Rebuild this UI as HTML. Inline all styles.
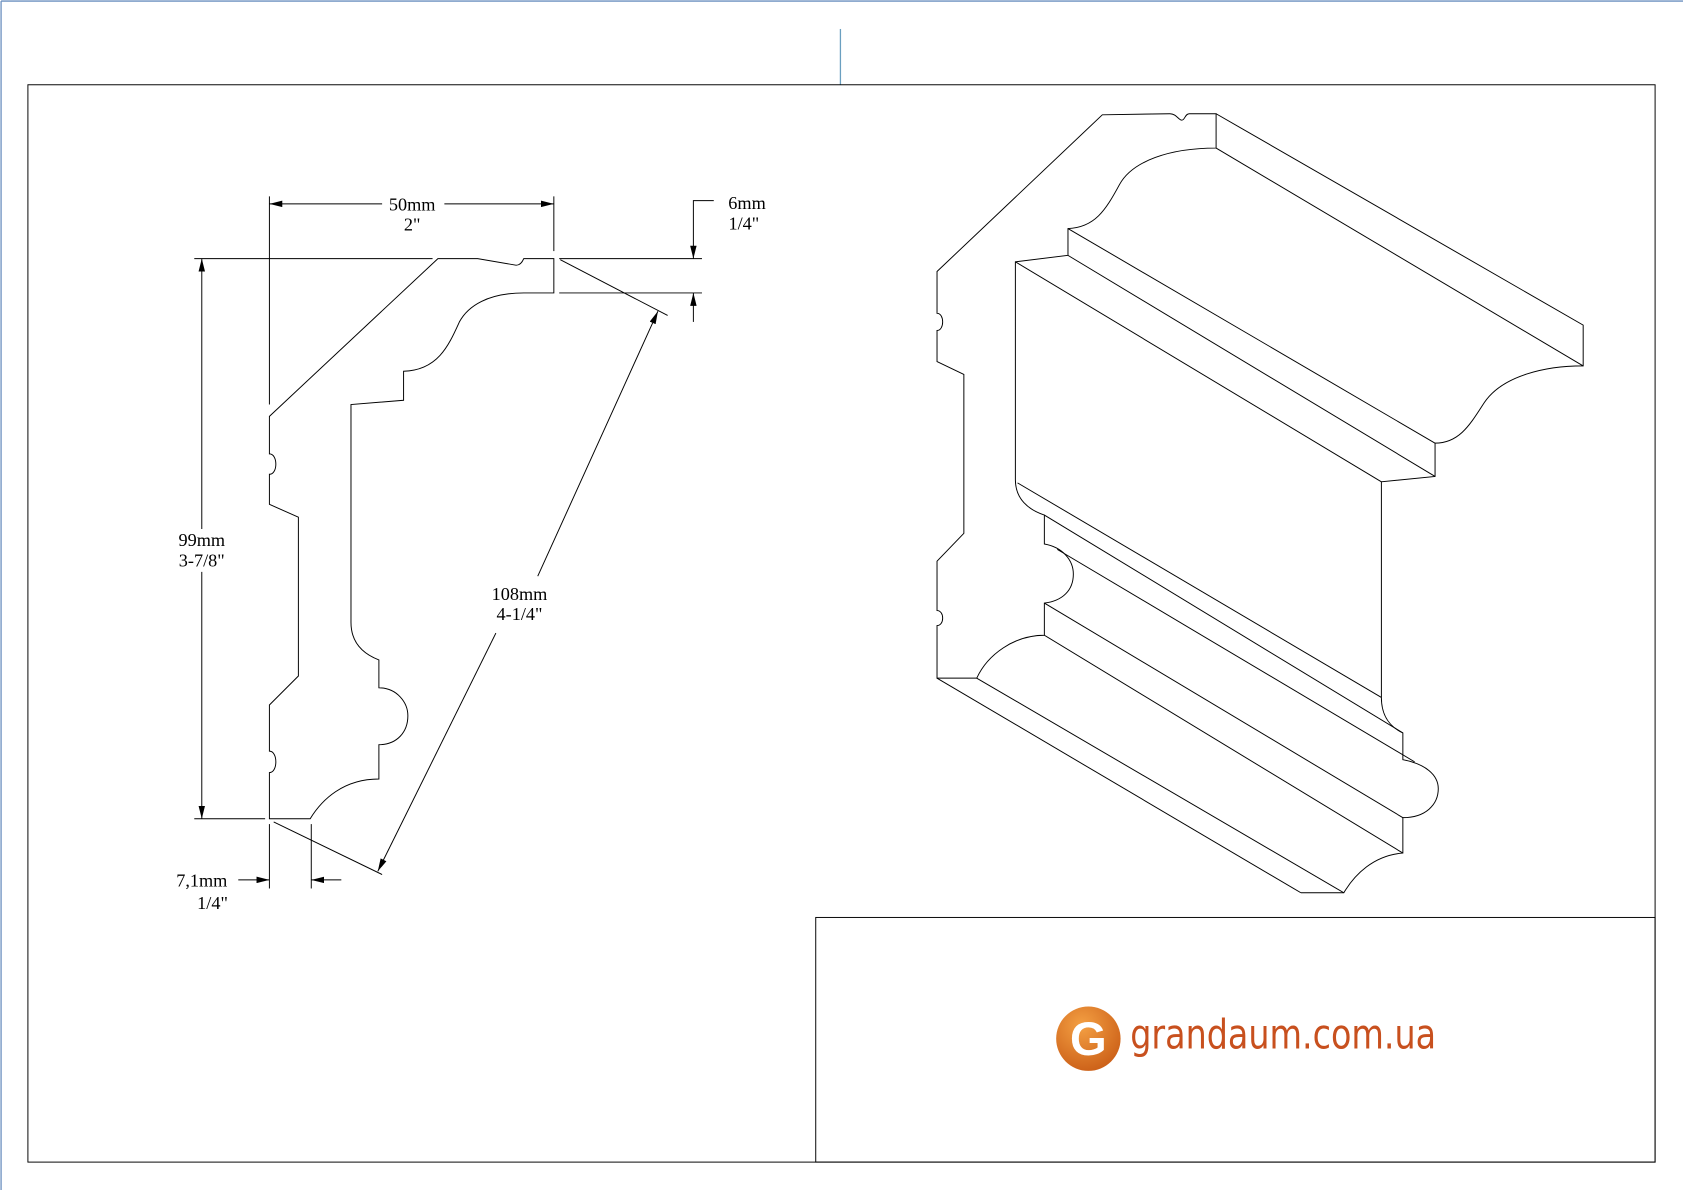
<!DOCTYPE html>
<html><head><meta charset="utf-8"><style>
html,body{margin:0;padding:0;background:#fff;width:1683px;height:1190px;overflow:hidden;}
svg{display:block;}
text{font-family:"Liberation Serif",serif;font-size:17px;fill:#000;}
</style></head><body>
<svg width="1683" height="1190" viewBox="0 0 1568 1109" preserveAspectRatio="none" xmlns="http://www.w3.org/2000/svg">
<defs>
<marker id="a" viewBox="0 0 12 6" refX="12" refY="3" markerWidth="12" markerHeight="6" markerUnits="userSpaceOnUse" orient="auto-start-reverse"><path d="M0,0 L12,3 L0,6 z" fill="#000"/></marker>
</defs>
<rect x="0" y="0" width="1568" height="1109" fill="#fff"/>
<line x1="1" y1="1" x2="1568" y2="1" stroke="#6a8fbf" stroke-width="1.2"/>
<line x1="1" y1="1" x2="1" y2="1109" stroke="#6a8fbf" stroke-width="1.2"/>
<line x1="783" y1="27" x2="783" y2="79" stroke="#6a9fc0" stroke-width="1.2"/>
<g fill="none" stroke="#000" stroke-width="0.9">
<rect x="26" y="79" width="1516" height="1004"/>
<rect x="760" y="855" width="782" height="228"/>

<path d="M408,241 L445,241 L480,247 Q485,248 488,241 L516,241 L516,273 L488,273 C455,273 436,285 428,300 C418,322 408,345 376,346 L376,373 L327,377 L327,580 C327,600 340,610 353,615 L353,641 C370,641 380,655 380,667 C380,682 370,694 353,694 L353,726 C320,726 300,745 289,763 L251,763 L251,720 C259,720 259,700 251,700 L251,657 L278,630 L278,482 L251,470 L251,442 C259,442 259,423 251,423 L251,388 Z"/>

<line x1="251" y1="183" x2="251" y2="377"/>
<line x1="516" y1="183" x2="516" y2="234"/>
<line x1="251" y1="190" x2="356" y2="190" marker-start="url(#a)"/>
<line x1="414" y1="190" x2="516" y2="190" marker-end="url(#a)"/>
<line x1="181" y1="241" x2="403" y2="241"/>
<line x1="521" y1="241" x2="654" y2="241"/>
<line x1="521" y1="273" x2="654" y2="273"/>
<polyline points="665,187 646,187 646,241" marker-end="url(#a)"/>
<line x1="646" y1="300" x2="646" y2="273" marker-end="url(#a)"/>
<line x1="188" y1="241" x2="188" y2="493" marker-start="url(#a)"/>
<line x1="188" y1="533" x2="188" y2="763" marker-end="url(#a)"/>
<line x1="181" y1="763" x2="247" y2="763"/>
<line x1="522" y1="242" x2="622" y2="294"/>
<line x1="255" y1="766" x2="356" y2="815"/>
<line x1="613" y1="290" x2="501" y2="537" marker-start="url(#a)"/>
<line x1="462" y1="590" x2="352" y2="812" marker-end="url(#a)"/>
<line x1="251" y1="768" x2="251" y2="828"/>
<line x1="290" y1="768" x2="290" y2="828"/>
<line x1="222" y1="820" x2="251" y2="820" marker-end="url(#a)"/>
<line x1="318" y1="820" x2="290" y2="820" marker-end="url(#a)"/>

<path d="M1027,107 L1090,106 C1096,106 1098,112 1101,112 C1104,112 1104,106 1108,106 L1133,106 L1133,138 C1090,138 1055,150 1043,172 C1030,196 1020,212 995,213 L995,238 L946,244 L946,447 C946,465 958,475 973,480 L973,507 C990,510 1000,522 1000,535 C1000,550 990,560 973,562 L973,592 C945,592 920,610 910,632 L873,632 L873,583 C880,583 880,569 873,569 L873,523 L898,497 L898,349 L873,337 L873,308 C880,308 880,292 873,292 L873,253 Z"/>
<path d="M1133,106 L1475,303 L1475,341 C1440,341 1400,350 1383,375 C1370,395 1360,413 1337,413 L1337,444 L1287,449 L1287,650 C1287,668 1296,678 1307,683 L1307,708 C1328,712 1340,722 1340,735 C1340,750 1328,762 1307,762 L1307,795 C1280,797 1262,815 1252,832 L1212,832"/>
<line x1="1133" y1="138" x2="1475" y2="341"/>
<line x1="995" y1="213" x2="1337" y2="413"/>
<line x1="995" y1="238" x2="1337" y2="444"/>
<line x1="946" y1="244" x2="1287" y2="449"/>
<line x1="948" y1="450" x2="1287" y2="650"/>
<line x1="973" y1="480" x2="1307" y2="683"/>
<line x1="985" y1="512" x2="1318" y2="710"/>
<line x1="973" y1="562" x2="1307" y2="762"/>
<line x1="973" y1="592" x2="1307" y2="795"/>
<line x1="910" y1="632" x2="1252" y2="832"/>
<line x1="873" y1="632" x2="1212" y2="832"/>
</g>

<g text-anchor="middle">
<text x="384" y="196">50mm</text><text x="384" y="215">2"</text>
<text x="696" y="195">6mm</text><text x="693" y="214">1/4"</text>
<text x="188" y="509">99mm</text><text x="188" y="528">3-7/8"</text>
<text x="484" y="559">108mm</text><text x="484" y="578">4-1/4"</text>
<text x="188" y="826">7,1mm</text><text x="198" y="847">1/4"</text>
</g>

<defs><radialGradient id="g" cx="0.4" cy="0.3" r="0.8"><stop offset="0" stop-color="#f4a043"/><stop offset="1" stop-color="#c85a14"/></radialGradient></defs>
<circle cx="1014" cy="968" r="30" fill="url(#g)"/>
<text x="1014" y="983" text-anchor="middle" style="font-family:'Liberation Sans',sans-serif;font-size:44px;font-weight:bold;fill:#fff">G</text>
<text x="1053" y="977" textLength="285" lengthAdjust="spacingAndGlyphs" style="font-family:'DejaVu Sans','Liberation Sans',sans-serif;font-size:38px;fill:#c8501e">grandaum.com.ua</text>
</svg>
</body></html>
